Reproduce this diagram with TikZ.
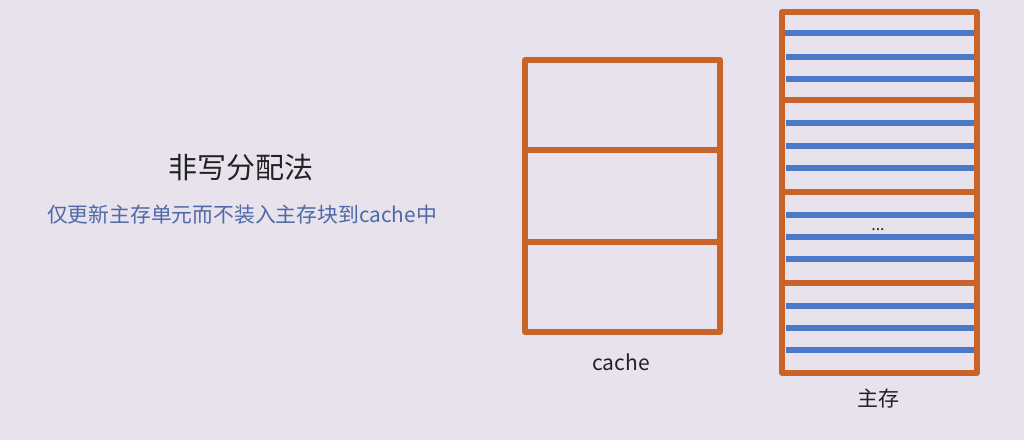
\documentclass[tikz,border=0pt]{standalone}
\usepackage{fontspec}
\setmainfont{Noto Sans CJK SC}
\definecolor{bgc}{HTML}{E7E2EC}
\definecolor{orangec}{HTML}{C8642A}
\definecolor{bluec}{HTML}{4C78C9}
\definecolor{subc}{HTML}{4D69A8}
\definecolor{titc}{HTML}{222222}
\begin{document}
\begin{tikzpicture}[x=1pt,y=-1pt,
  frame/.style={draw=orangec,line width=5.5pt,line join=round},
  stripe/.style={draw=bluec,line width=6pt},
  lbl/.style={inner sep=0pt,font=\fontsize{21}{24}\selectfont,text=titc}]
\fill[bgc] (0,0) rectangle (1024,440);
\useasboundingbox (0,0) rectangle (1024,440);
% left text
\node[inner sep=0pt,font=\fontsize{29}{34}\selectfont,text=titc] (title) at (241,168) {非写分配法};
\node[inner sep=0pt,font=\fontsize{20.8}{24}\selectfont,text=subc] (sub) at (242,215) {仅更新主存单元而不装入主存块到cache中};
% main memory stripes
\draw[stripe] (782,33) -- (978,33);
\foreach \y in {57,79,123,146,168,215,237,259,306,328,350}
  \draw[stripe] (786,\y) -- (974,\y);
% cache
\draw[frame] (525,60) rectangle (720,332);
\draw[frame] (525,150) -- (720,150);
\draw[frame] (525,242) -- (720,242);
\node[lbl] (cachelbl) at (621,362) {cache};
% main memory
\draw[frame] (782,12) rectangle (977,373);
\foreach \y in {100,192,283}
  \draw[frame] (782,\y) -- (977,\y);
\node[inner sep=0pt,font=\fontsize{16}{18}\selectfont,text=titc] (dots) at (878,230) {...};
\node[lbl] (memlbl) at (878,398) {主存};
\end{tikzpicture}
\end{document}
